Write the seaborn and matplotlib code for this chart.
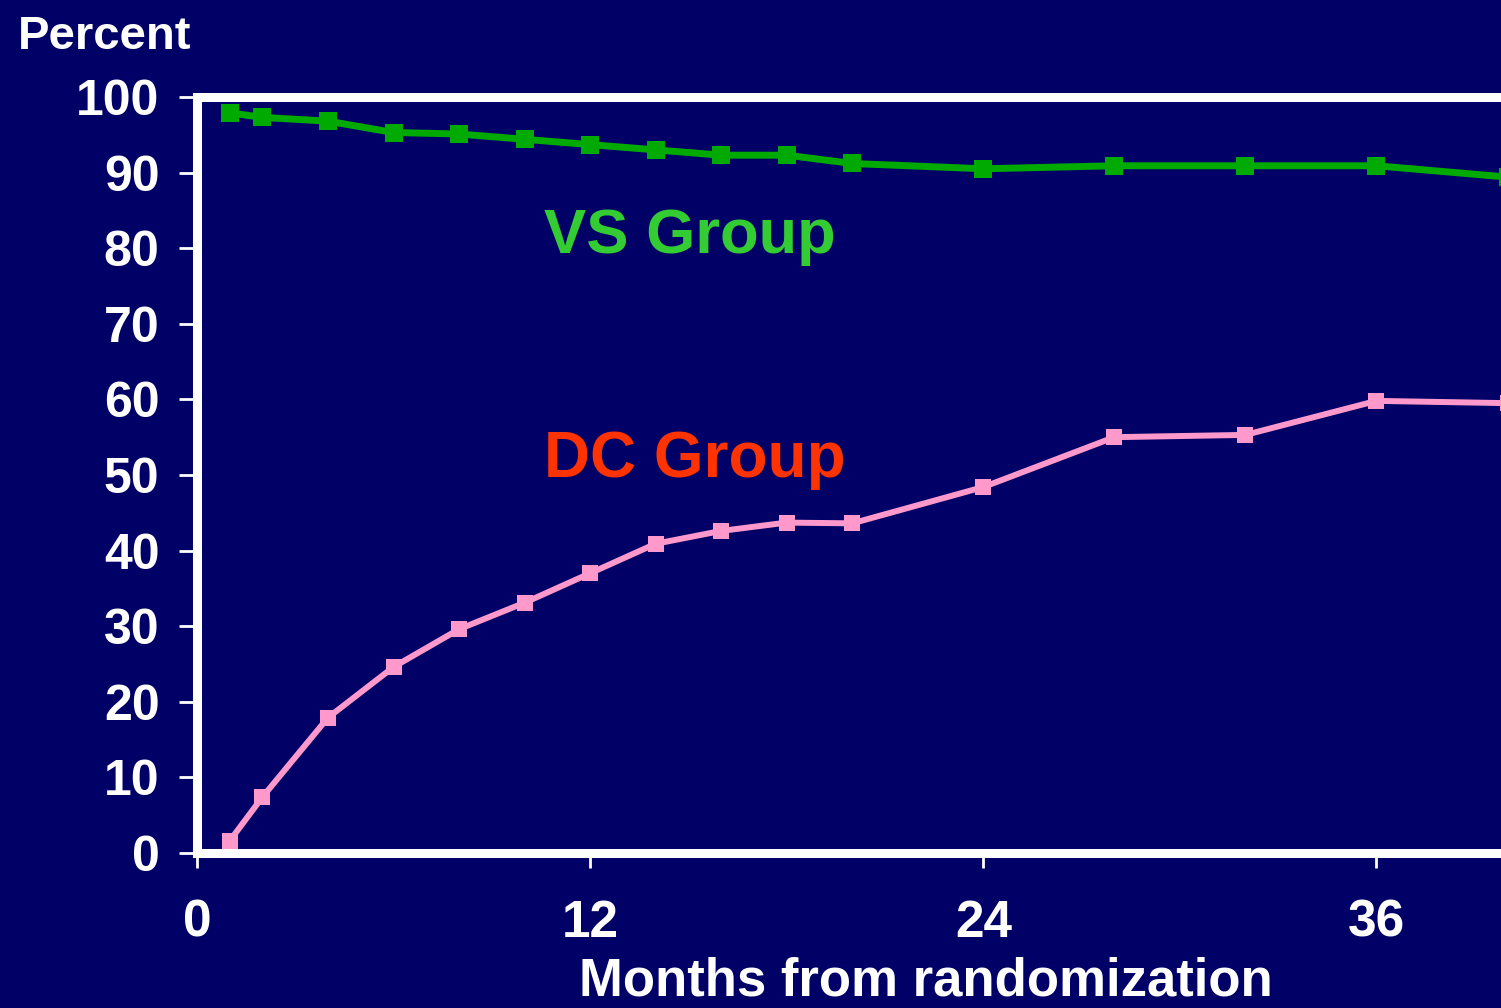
import matplotlib
matplotlib.use("Agg")
import matplotlib.pyplot as plt
import seaborn as sns
import pandas as pd

# Cumulative percent of patients, by months since randomization
months = [1, 2, 4, 6, 8, 10, 12, 14, 16, 18, 20, 24, 28, 32, 36, 40]
vs_group = [97.9, 97.3, 96.8, 95.3, 95.1, 94.4, 93.7, 93.0, 92.3, 92.3,
            91.2, 90.5, 90.9, 90.9, 90.9, 89.4]
dc_group = [1.6, 7.4, 17.9, 24.6, 29.6, 33.1, 37.0, 40.9, 42.6, 43.7,
            43.6, 48.4, 55.0, 55.3, 59.8, 59.5]
x_ticks = [0, 12, 24, 36]
y_ticks = [0, 10, 20, 30, 40, 50, 60, 70, 80, 90, 100]

df = pd.DataFrame({"month": months, "VS": vs_group, "DC": dc_group})

BG = "#000066"
sns.set_theme(style="white")
plt.rcParams["font.family"] = ["Liberation Sans", "DejaVu Sans"]
plt.rcParams["font.weight"] = "bold"

fig = plt.figure(figsize=(15.01, 10.08), dpi=100, facecolor=BG)
ax = fig.add_axes([0.1312, 0.1538, 0.8688, 0.75])
ax.set_facecolor(BG)

sns.lineplot(data=df, x="month", y="VS", ax=ax, color="#00AA00", linewidth=5,
             marker="s", markersize=12.5, markeredgewidth=0, markerfacecolor="#00AA00")
sns.lineplot(data=df, x="month", y="DC", ax=ax, color="#FF99CC", linewidth=4.3,
             marker="s", markersize=12, markeredgewidth=0, markerfacecolor="#FF99CC")

ax.set_xlim(0, 39.8)
ax.set_ylim(0, 100)
ax.set_xticks(x_ticks)
ax.set_yticks(y_ticks)
ax.set_xticklabels([str(t) for t in x_ticks], fontsize=37, fontweight="bold", color="white")
ax.set_yticklabels([str(t) for t in y_ticks], fontsize=36, fontweight="bold", color="white")

for side in ["left", "top", "bottom"]:
    ax.spines[side].set_visible(True)
    ax.spines[side].set_color("white")
    ax.spines[side].set_linewidth(6.5)
ax.spines["right"].set_visible(False)

ax.tick_params(axis="y", which="major", direction="out", length=13, width=2,
               color="white", pad=14, left=True)
ax.tick_params(axis="x", which="major", direction="out", length=11, width=2,
               color="white", pad=22, bottom=True)

ax.set_xlabel("")
ax.set_ylabel("")

fig.text(926 / 1501, 1 - 995 / 1008, "Months from randomization", fontsize=38,
         fontweight="bold", color="white", ha="center", va="baseline")

fig.text(18 / 1501, 1 - 49 / 1008, "Percent", fontsize=34, fontweight="bold",
         color="white", ha="left", va="baseline")

ax.text(10.6, 79.4, "VS Group", fontsize=45.5, fontweight="bold", color="#33CC33",
        ha="left", va="baseline")
ax.text(10.6, 49.7, "DC Group", fontsize=46, fontweight="bold", color="#FF3300",
        ha="left", va="baseline")

fig.savefig("out.png", dpi=100, facecolor=BG)
